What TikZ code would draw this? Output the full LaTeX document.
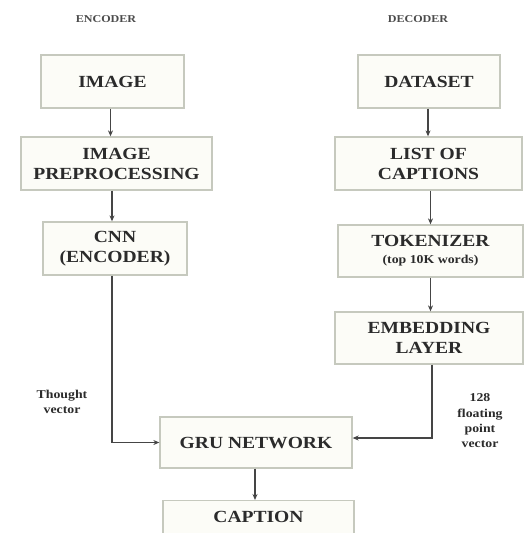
\documentclass[tikz,border=0pt]{standalone}
\usepackage{fontspec}
\setmainfont{Liberation Serif}[FakeStretch=1.15]
\usetikzlibrary{arrows.meta}
\definecolor{boxline}{HTML}{C6C9BE}
\definecolor{boxfill}{HTML}{FCFCF7}
\definecolor{ink}{HTML}{2B2B2B}
\definecolor{wire}{HTML}{454545}
\tikzset{
  blk/.style={draw=boxline, line width=1.3pt, fill=boxfill, inner sep=0pt,
    align=center, text=ink, font=\fontsize{17}{20}\selectfont\bfseries},
  lbl/.style={align=center, text=ink, inner sep=0pt, font=\fontsize{12}{15.3}\selectfont\bfseries},
  hdr/.style={text=ink!85, inner sep=0pt, font=\fontsize{10.5}{12}\selectfont\bfseries},
  wirearrow/.style={draw=wire, line width=1.4pt, -{Stealth[length=6pt,width=5pt]}}
}
\begin{document}
\begin{tikzpicture}[x=1pt,y=-1pt]
\useasboundingbox (0,0) rectangle (526,533);
\clip (0,0) rectangle (526,533);
\node[hdr] (enc) at (106,19) {ENCODER};
\node[hdr] (dec) at (418,19) {DECODER};
\node[blk, minimum width=143pt, minimum height=53pt] (image) at (112.5,81.5) {IMAGE};
\node[blk, minimum width=191pt, minimum height=53pt] (prep) at (116.5,163.5) {IMAGE\\PREPROCESSING};
\node[blk, minimum width=144pt, minimum height=53pt] (cnn) at (115,248.5) {CNN\\(ENCODER)};
\node[blk, minimum width=142pt, minimum height=53pt] (data) at (429,81.5) {DATASET};
\node[blk, minimum width=187pt, minimum height=53pt] (list) at (428.5,163.5) {LIST OF\\CAPTIONS};
\node[blk, minimum width=185pt, minimum height=52pt] (tok) at (430.5,251) {TOKENIZER\\[-3pt]{\fontsize{12}{14}\selectfont (top 10K words)}};
\node[blk, minimum width=188pt, minimum height=52pt] (emb) at (429,338) {EMBEDDING\\LAYER};
\node[blk, minimum width=192pt, minimum height=51pt] (gru) at (256,442.5) {GRU NETWORK};
\node[blk, minimum width=191pt, minimum height=53pt, anchor=north] (cap) at (258.5,500) {\raisebox{20pt}{CAPTION}};
\node[lbl] (tv) at (62,402) {Thought\\vector};
\node[lbl] (fv) at (480,421) {128\\floating\\point\\vector};
\draw[wirearrow] ([xshift=-2pt]image.south) -- ([xshift=-2pt]image.south |- prep.north);
\draw[wirearrow] ([xshift=-4.5pt]prep.south) -- ([xshift=-4.5pt]prep.south |- cnn.north);
\draw[wirearrow] ([xshift=-3pt]cnn.south) |- (gru.west);
\draw[wirearrow] ([xshift=-1pt]data.south) -- ([xshift=-1pt]data.south |- list.north);
\draw[wirearrow] (tok.north |- list.south) -- (tok.north);
\draw[wirearrow] (tok.south) -- (tok.south |- emb.north);
\draw[wirearrow] ([xshift=3pt]emb.south) |- ([yshift=4.5pt]gru.east);
\draw[wirearrow] ([xshift=-1pt]gru.south) -- ([xshift=-1pt]gru.south |- cap.north);
\end{tikzpicture}
\end{document}
